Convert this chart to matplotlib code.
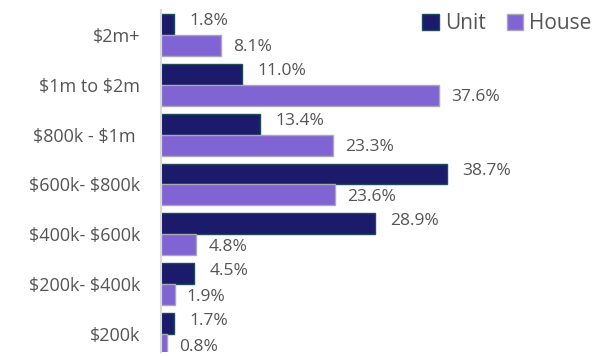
import matplotlib.pyplot as plt
import numpy as np

categories = [r'\$2m+', r'\$1m to \$2m', r'\$800k - \$1m ', r'\$600k- \$800k', r'\$400k- \$600k',
              r'\$200k- \$400k', r'\$200k']
unit = [1.8, 11.0, 13.4, 38.7, 28.9, 4.5, 1.7]
house = [8.1, 37.6, 23.3, 23.6, 4.8, 1.9, 0.8]

plt.rcParams['font.family'] = ['Open Sans', 'DejaVu Sans']
text_col = '#555555'
unit_col = '#1b1a6b'
house_col = '#8064d4'

fig = plt.figure(figsize=(6.03, 3.56), dpi=100)
ax = fig.add_axes([161 / 603, 4 / 356, 437 / 603, 342 / 356])

y = np.arange(len(categories))
h = 0.42
ax.barh(y - h / 2, unit, height=h, color=unit_col, edgecolor='#1e4a5a', linewidth=1, label='Unit')
ax.barh(y + h / 2, house, height=h, color=house_col, edgecolor='#a8a8b0', linewidth=1, label='House')

for i in range(len(categories)):
    ax.text(unit[i] + 2.1, y[i] - h / 2 - 0.06, f'{unit[i]:.1f}%', va='center', ha='left',
            fontsize=12.5, color=text_col)
    ax.text(house[i] + 1.6, y[i] + h / 2 + 0.04, f'{house[i]:.1f}%', va='center', ha='left',
            fontsize=12.5, color=text_col)

ax.set_xlim(0, 437 / 7.39)
ax.set_ylim(6.36, -0.5)
ax.set_yticks(y)
ax.set_yticklabels(categories, fontsize=13, color=text_col)
ax.tick_params(axis='y', length=0, pad=15)
ax.set_xticks([])
for side in ['top', 'right', 'bottom']:
    ax.spines[side].set_visible(False)
ax.spines['left'].set_color('#d9d9d9')
ax.spines['left'].set_linewidth(1.5)

ax.legend(loc='upper right', bbox_to_anchor=(1.005, 1.015), ncol=2, frameon=False, fontsize=15,
          handlelength=0.8, handleheight=0.8, handletextpad=0.3, columnspacing=1.0,
          labelcolor=text_col, borderaxespad=0)

fig.savefig('out.png', dpi=100)
